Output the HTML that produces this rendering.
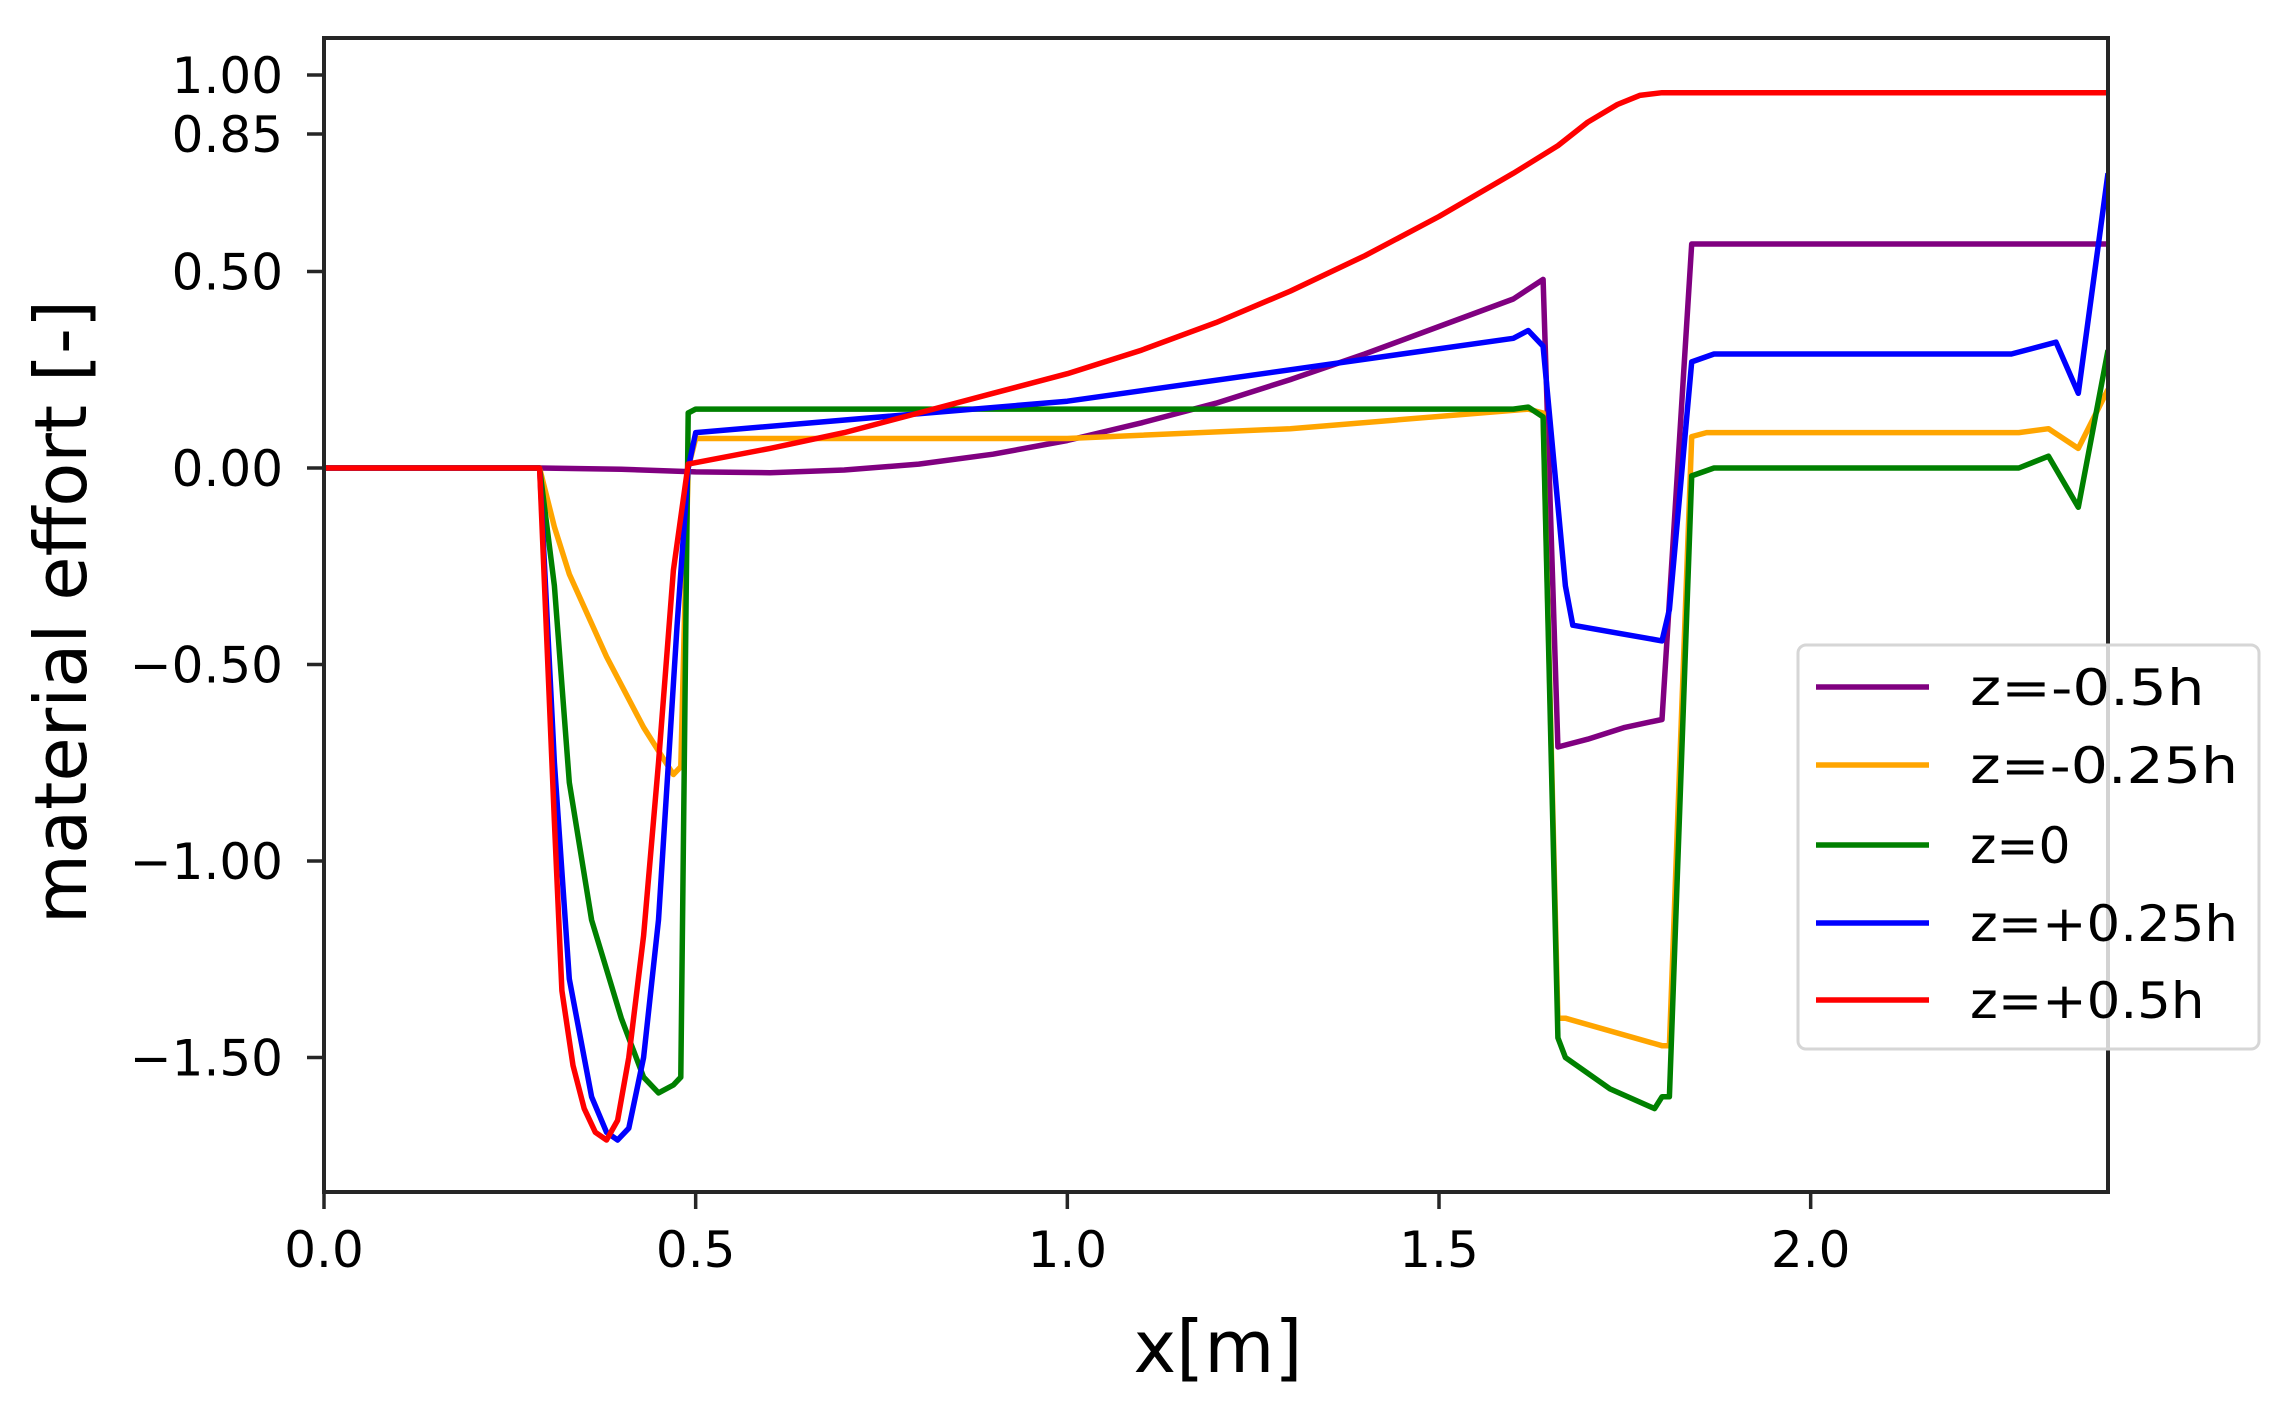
<!DOCTYPE html>
<html><head><meta charset="utf-8"><style>
html,body{margin:0;padding:0;background:#fff;}
svg text{font-family:"DejaVu Sans","Liberation Sans",sans-serif;fill:#000;}
</style></head><body>
<svg id="chart" width="2292" height="1409" viewBox="0 0 2292 1409" xmlns="http://www.w3.org/2000/svg">
<rect x="0" y="0" width="2292" height="1409" fill="#fff"/>
<g id="plot"></g>
<g id="axes"></g>
<g id="legend"></g>
</svg>
<script>
const xTicks = [0.0, 0.5, 1.0, 1.5, 2.0];
const xTickLabels = ["0.0", "0.5", "1.0", "1.5", "2.0"];
const yTicks = [1.00, 0.85, 0.50, 0.00, -0.50, -1.00, -1.50];
const yTickLabels = ["1.00", "0.85", "0.50", "0.00", "\u22120.50", "\u22121.00", "\u22121.50"];
const seriesNames = ["z=-0.5h", "z=-0.25h", "z=0", "z=+0.25h", "z=+0.5h"];
const seriesColors = ["purple", "orange", "green", "blue", "red"];

const purpleX = [0, 0.29, 0.4, 0.5, 0.6, 0.7, 0.8, 0.9, 1.0, 1.1, 1.2, 1.3, 1.4, 1.5, 1.6, 1.64, 1.66, 1.7, 1.75, 1.8, 1.84, 2.4];
const purpleY = [0, 0, -0.003, -0.01, -0.012, -0.005, 0.01, 0.035, 0.07, 0.115, 0.165, 0.225, 0.29, 0.36, 0.43, 0.48, -0.71, -0.69, -0.66, -0.64, 0.57, 0.57];
const orangeX = [0, 0.29, 0.31, 0.33, 0.38, 0.43, 0.47, 0.48, 0.49, 0.5, 1.0, 1.3, 1.62, 1.64, 1.66, 1.67, 1.8, 1.81, 1.84, 1.86, 2.28, 2.32, 2.36, 2.4];
const orangeY = [0, 0, -0.15, -0.27, -0.48, -0.66, -0.78, -0.76, 0.0, 0.075, 0.075, 0.1, 0.15, 0.14, -1.4, -1.4, -1.47, -1.47, 0.08, 0.09, 0.09, 0.1, 0.05, 0.2];
const greenX = [0, 0.29, 0.31, 0.33, 0.36, 0.40, 0.43, 0.45, 0.47, 0.48, 0.49, 0.5, 1.6, 1.62, 1.64, 1.66, 1.67, 1.73, 1.79, 1.80, 1.81, 1.84, 1.87, 2.28, 2.32, 2.36, 2.4];
const greenY = [0, 0, -0.3, -0.8, -1.15, -1.4, -1.55, -1.59, -1.57, -1.55, 0.14, 0.15, 0.15, 0.155, 0.13, -1.45, -1.5, -1.58, -1.63, -1.6, -1.6, -0.02, 0.0, 0.0, 0.03, -0.1, 0.3];
const blueX = [0, 0.29, 0.31, 0.33, 0.36, 0.38, 0.395, 0.41, 0.43, 0.45, 0.475, 0.49, 0.5, 1.0, 1.6, 1.62, 1.64, 1.67, 1.68, 1.8, 1.81, 1.84, 1.87, 2.27, 2.33, 2.36, 2.4];
const blueY = [0, 0, -0.75, -1.3, -1.6, -1.69, -1.71, -1.68, -1.5, -1.15, -0.4, 0.0, 0.09, 0.17, 0.33, 0.35, 0.31, -0.3, -0.4, -0.44, -0.36, 0.27, 0.29, 0.29, 0.32, 0.19, 0.75];
const redX = [0, 0.29, 0.31, 0.32, 0.335, 0.35, 0.365, 0.38, 0.395, 0.41, 0.43, 0.45, 0.47, 0.49, 0.6, 0.7, 0.8, 0.9, 1.0, 1.1, 1.2, 1.3, 1.4, 1.5, 1.6, 1.66, 1.7, 1.74, 1.77, 1.8, 2.4];
const redY = [0, 0, -0.9, -1.33, -1.52, -1.63, -1.69, -1.71, -1.66, -1.5, -1.19, -0.75, -0.26, 0.01, 0.05, 0.09, 0.14, 0.19, 0.24, 0.30, 0.37, 0.45, 0.54, 0.64, 0.75, 0.82, 0.88, 0.925, 0.948, 0.955, 0.955];

const seriesX = [purpleX, orangeX, greenX, blueX, redX];
const seriesY = [purpleY, orangeY, greenY, blueY, redY];

const L = 324, R = 2108, T = 38, B = 1192;
const xMin = 0, xMax = 2.4;
const y0px = 468, yUnit = 393;
function sx(v){ return L + (v - xMin) / (xMax - xMin) * (R - L); }
function sy(v){ return y0px - v * yUnit; }

const NS = "http://www.w3.org/2000/svg";
function mk(tag, attrs, parent){ const e = document.createElementNS(NS, tag); for (const k in attrs) e.setAttribute(k, attrs[k]); parent.appendChild(e); return e; }

const plot = document.getElementById('plot');
const axes = document.getElementById('axes');
const legend = document.getElementById('legend');

const cp = mk('clipPath', {id:'clip'}, plot);
mk('rect', {x:L, y:T, width:R-L, height:B-T}, cp);

for (let s = 0; s < seriesNames.length; s++) {
  const pts = seriesX[s].map((x, i) => sx(x).toFixed(1) + ',' + sy(seriesY[s][i]).toFixed(1)).join(' ');
  const pl = mk('polyline', {points: pts, fill:'none', stroke: seriesColors[s], 'stroke-width':5.5, 'stroke-linejoin':'round', 'clip-path':'url(#clip)'}, plot);
  
  
}

const frame = mk('rect', {x:L, y:T, width:R-L, height:B-T, fill:'none', stroke:'#262626', 'stroke-width':4}, axes);



for (let i = 0; i < xTicks.length; i++) {
  const x = sx(xTicks[i]);
  const t = mk('line', {x1:x, y1:B, x2:x, y2:B+17, stroke:'#262626', 'stroke-width':3.5}, axes);
  
  
  const lb = mk('text', {x:x, y:1267, 'font-size':50, 'text-anchor':'middle'}, axes);
  lb.textContent = xTickLabels[i];
  
  
}
for (let i = 0; i < yTicks.length; i++) {
  const y = sy(yTicks[i]);
  const t = mk('line', {x1:L-17, y1:y, x2:L, y2:y, stroke:'#262626', 'stroke-width':3.5}, axes);
  
  
  const lb = mk('text', {x:283, y:y+18, 'font-size':50, 'text-anchor':'end'}, axes);
  lb.textContent = yTickLabels[i];
  
  
}
const xt = mk('text', {x:1218, y:1372, 'font-size':72, 'text-anchor':'middle'}, axes);
xt.textContent = 'x[m]';


const yt = mk('text', {x:0, y:0, 'font-size':72, 'text-anchor':'middle', transform:'translate(86,612) rotate(-90)'}, axes);
yt.textContent = 'material effort [-]';



const lbox = mk('rect', {x:1798, y:645, width:461, height:404, rx:8, fill:'#fff', 'fill-opacity':0.8, stroke:'#d6d6d6', 'stroke-width':3}, legend);


const entryY = [687, 765, 845, 923, 1000];
for (let s = 0; s < seriesNames.length; s++) {
  const g = mk('g', {}, legend);
  
  
  mk('line', {x1:1816, y1:entryY[s], x2:1929, y2:entryY[s], stroke:seriesColors[s], 'stroke-width':5.5}, g);
  const tx = mk('text', {x:1970, y:entryY[s]+18, 'font-size':50, 'textLength': seriesNames[s].length*33.5, 'lengthAdjust':'spacingAndGlyphs'}, g);
  tx.textContent = seriesNames[s];
}
</script>
</body></html>
